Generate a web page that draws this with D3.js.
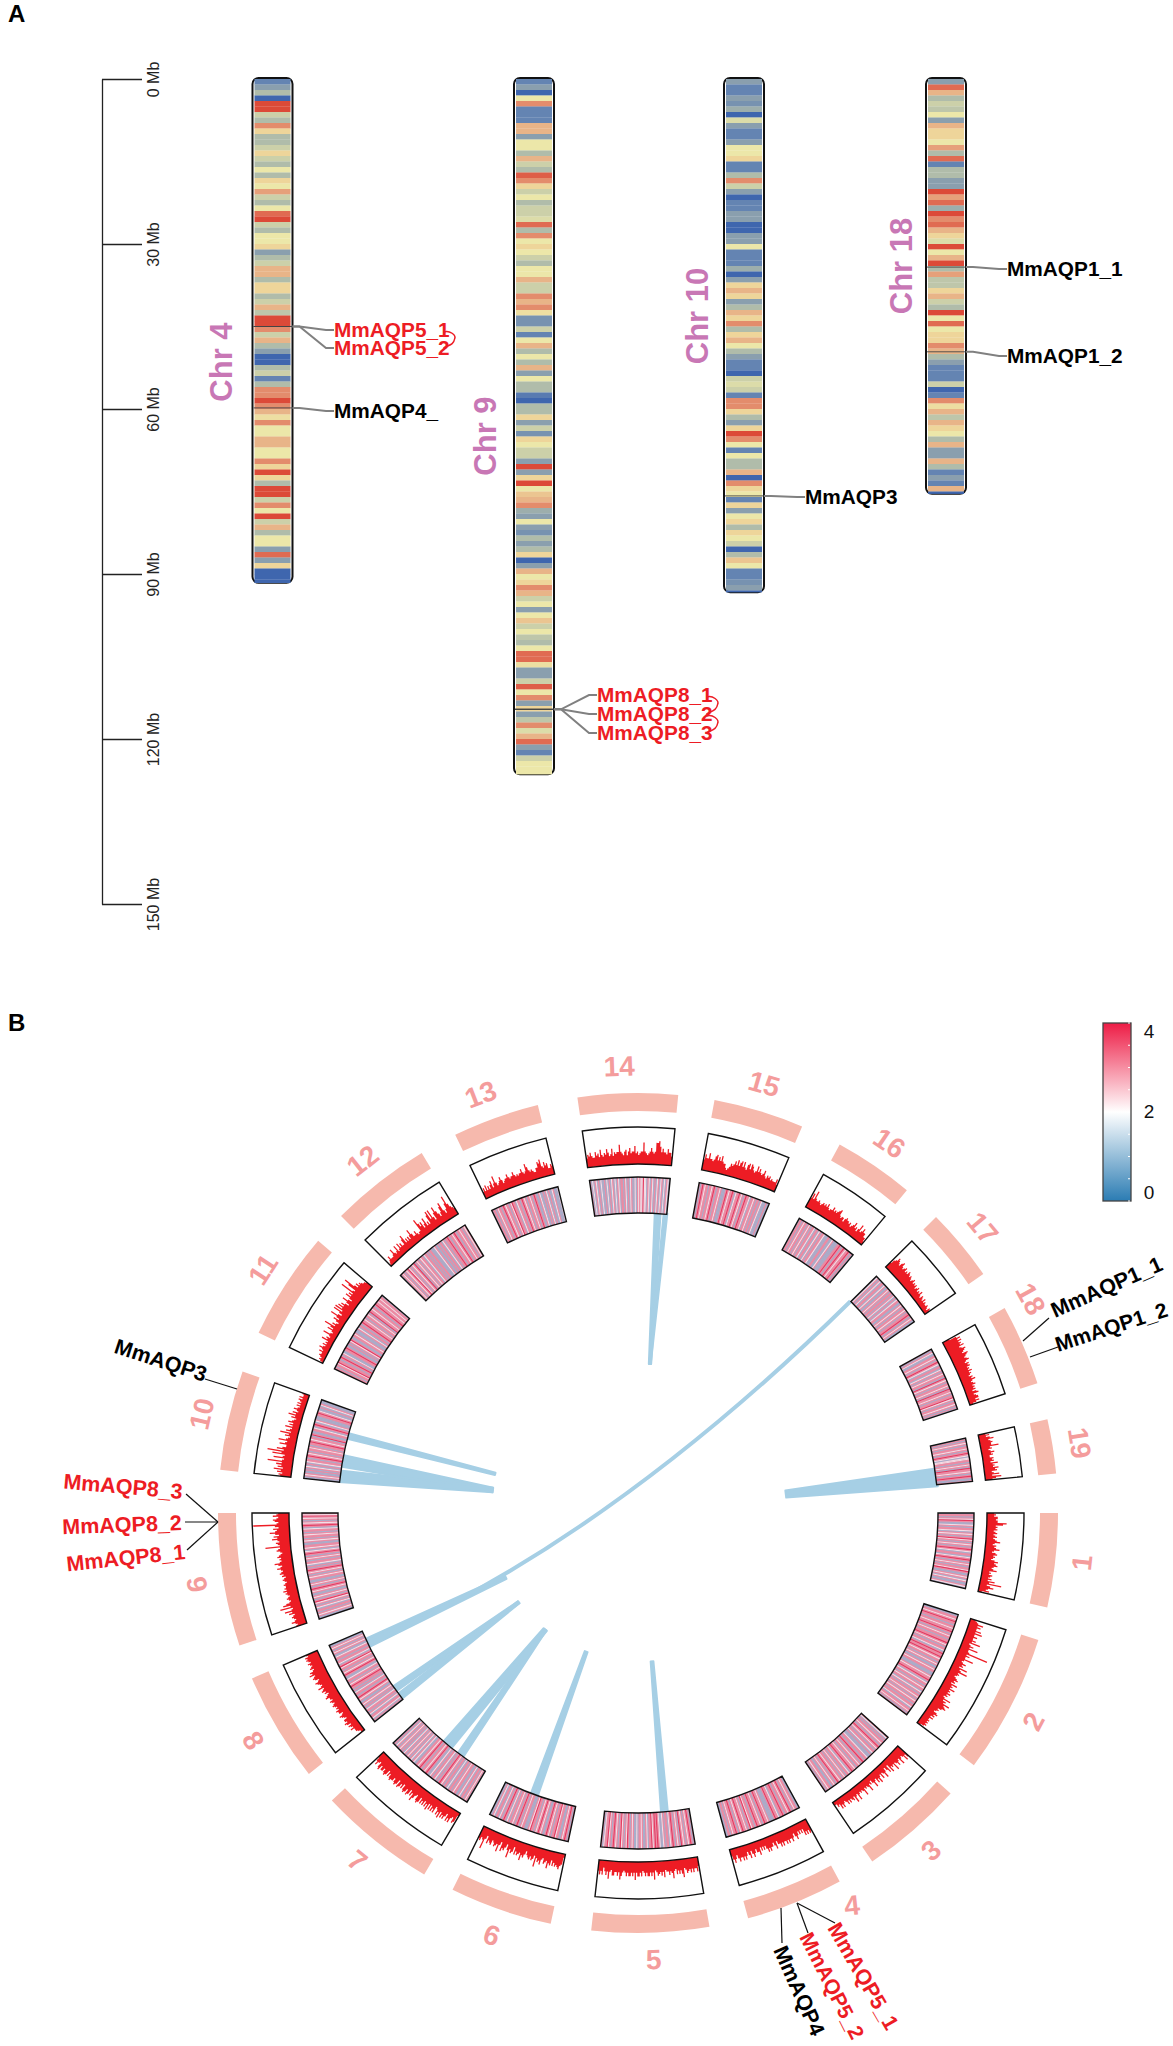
<!DOCTYPE html>
<html><head><meta charset="utf-8">
<script src="https://d3js.org/d3.v7.min.js"></script>
<style>html,body{margin:0;background:#fff}svg{display:block}text{font-family:"Liberation Sans",Arial,sans-serif}</style>
</head><body><svg id="c" width="1173" height="2046"></svg>
<script>
// ---------- Panel A: chromosome density (one value per Mb, 0 = low, 9 = high)
const idioNames=["Chr 4","Chr 9","Chr 10","Chr 18"];
const idioLen=[91.6,126.4,93.3,75.4];
const band4=[1,2,3,0,9,9,4,3,8,6,3,3,4,6,4,3,5,3,6,5,7.5,4,3,5,8.5,9,4,3,5,5,6,2,3,4,7,7,3,6,6,3,4,7,3.5,9,9,8,4,7,3,2,0,0,3,4,1,3,8,8,9,8,7,5.5,8,5,5,7,7,5,5,8,6,9,6,3,9.5,9,4,8,5,9,4,7,3,5,5,2,8.5,2,6,0,0,0];
const band9=[1,2,0,5,8,1,1,1,7,7,2,5,5,3,7,4,3,8.7,8,6,4,5,3,4,4,4.5,8.5,3,8,5,6,5,4,3,5,5,7,4,4,8,7,8,5.5,1.5,1.5,4,1,5,7,3,5,3,7,2,5,3,3,0.7,0,3,3,6,2,4,1.5,6,5,4,4,2,9,2,6,9.5,5,6.5,7,8,2.5,2,5,2,1.5,3,2,3,6,0,2,7,5,6,8,7,4,5,2,5,6.5,4,5,3.5,3,5,8.5,8.5,5.5,2,2,4,8.7,5,8,2,6,2,3.5,8,4.5,7,8.5,2,1,4,5,5,5,0];
const band10=[2,1,1,2,1.5,2.5,0,4.5,2,1,1,2,5,5,6,1,1,3,8,4,2,0,1,1,2,2,0,0,2,2,5,1,1,1,2.5,-0.3,2,6,7,6,2,3,7,6,8,3,6,7,5,3,2,1,1,0,4,4.5,4,1,8,8,6,3,2,6,9,8,5,1,5,3,3,7,0,8,6,5,1,6,2,5,6,3,6,5,4,0,3,6.5,5,1,1,1.5,2,0];
const band18=[2,8.5,7,3,4,3.5,5,2,7,6,6,5,7.5,3,8.5,1,3,3,2,2,9.5,7.5,8.5,2.5,9.5,8,8.5,7,6,4.5,9,5,7,9.5,3,7.5,3.5,3.5,6,7,4,3,9,5,8.5,5,6,6,8,7,3,2,1,1,1,4,0,1,8,5.5,7,3.5,7,6,5,3,7,2,2,7,3,1,2,1,7,0];
const idioBands=[band4,band9,band10,band18];
const idioAxisTicks=[0,30,60,90,120,150];
const idioGenes=["MmAQP5_1","MmAQP5_2","MmAQP4_","MmAQP8_1","MmAQP8_2","MmAQP8_3","MmAQP3","MmAQP1_1","MmAQP1_2"];
const idioGeneChr=[0,0,0,1,1,1,2,3,3];
const idioGeneMb=[45,45,59.8,114.6,114.6,114.6,75.8,34.2,49.6];
const idioGeneRed=[1,1,0,1,1,1,0,0,0];
const idioDup=[[0,1],[3,4],[4,5]];
// ---------- Panel B: circular genome
const chrNames=["1","2","3","4","5","6","7","8","9","10","11","12","13","14","15","16","17","18","19"];
const chrStart=[90,107.6,131.9,151.3,170.2,192,210.6,231.6,251.6,275.9,295.4,315,334.2,351.7,10.5,28.7,45.2,60.8,77.1];
const chrEnd=[103,126.9,146.1,164.8,186.4,206.2,226.8,246.8,270,289.7,310.4,329,346.2,365.5,23,39.8,55.3,72,84.6];
const chrLabelAngle=[96.4,117.8,139,151.4,178,199.1,218.9,239.4,260.8,282.8,303,322,339.4,357.6,16.4,34.2,50.4,61.4,81];
const chrLabelRot=[-83.6,-62,-41,-6,-2,19,39,59,81,-77,-57,-38,-21,-2,16,34,50,61,81];
const hist1=[2,2.5,2,3,3,2.5,3,3,5.5,4.5,2.5,3,2.5,3,2,2.5,3,2,2.5,3,2,2.5,3,4,2.5,2,3,2.5,3,4,2.5,2,3,3.5,2.5,3,2.5,2,3,4,3,3.5,4,3,2.5,3,4,2,2.5,2,3,2.5,2,3,2,4,2.5,6,2,3,4,2.5,2,3,1];
const hist2=[1.5,2,2.5,4,2.5,3.5,2.5,2.5,4,2.5,4.5,2.5,2.5,3.5,2.5,2.5,3.5,2.5,5,2,2.5,3.5,2.5,5,2.5,2.5,3,8.5,2.5,3.5,2.5,2.5,5,2.5,2,2.5,3.5,2.5,3,2,4.5,2.5,3,5,2.5,3,2.5,2,2.5,3,3.5,2.5,3,2,4,2.5,3,2.5,4,2.5,3,2.5,3.5,2.5,3,2,2.5,4.5,2.5,3.5,3,5,3.5,4,4.5,3.5,2.5,3,2.5,2,3,3.5,2.5,3,2,3,2,2,2.5,2,2.5,2,2.5,2,1];
const hist3=[4,3,4.5,3,2.5,3,4.5,2.5,3,4,3,2.5,4.5,2.5,3,2.5,4,1.5,3.5,2.5,1.5,2.5,4,2.5,2,3.5,2,2.5,4,2.5,3.5,2,2.5,4,2.5,1.5,2.5,2,4,2.5,2,2.5,2,4,2.5,2,2.5,2,2.5,4,2,2.5,4,2,3,2.5,2,3,2,3,2,1.5,2,3,2,3,1.5,2,1,1];
const hist4=[3.5,4,3,4,3,4,2,3,2,3,2,3,4,3,2,3,4,3,3,4,3,4,3,3,4,3,4,3,3,2,4,3,2,3,3,4,3,4,3,2,3,2,3,2,4,3,3,2,3,4,3,2,4,3,2,3,4,3,4,3,3,4,3,2,3,4,3,2];
const hist5=[2.5,4,3,3,4,3,4,3,3.5,4,3,2.5,5,4,3,4,3,4,2.5,3,5,3.5,3,4,3,3,2.5,4.5,3,4,3,3.5,4,3,2.5,5,3,4,3,4,4,3,4,3,2.5,4,3,4,4,3,5,3,4,3,4,4,3,4,3,2.5,3,4,5,3,4,3,3,4,4,2.5,3,5,3,4,3,2,4,3,4,3];
const hist6=[1,3,3.5,4.5,4,3.5,4,3,4,2.5,4,3.5,5,3,3.5,4,2.5,3,4.5,3.5,4,3,5.5,2.5,3.5,4,3,4,3.5,3,2,3,4,3.5,5,3,3.5,4,3,4,2,3.5,4,3,5.5,3.5,2,3,4,3.5,4.5,2,3,5,3,3.5,4,3,2.5,4,3.5,3,4,2,3,6,3.5,3,4,3.5];
const hist7=[1,3,3.5,2,2.5,4,3,4,2,3,4,3,4,2.5,4.5,3,4,2.5,2,4,3,4,2.5,4,2.5,4.5,3,4,2.5,4,3,4,2.5,4,4.5,4,2.5,3,4,5,3,4,2.5,4,4.5,3,4,4.5,4,2.5,4,3,4,4.5,2.5,4,4.5,4,3,4,4,4.5,4,3,4,2.5,4,4.5,4,3,4,4,3,4.5,4,2.5,3,4,3,2];
const hist8=[1,1,1.5,2,2,2,3,2,2.5,3,2,3,3.5,2.5,3,3,2,2.5,3,3.5,2.5,2,3,3,3.5,2.5,3,2.5,3,3.5,3,2.5,3,3.5,2.5,3,3,4,3.5,3,2.5,3.5,3,4,3.5,3,4.5,3.5,3,3.5,4,4.5,3.5,3,4,4.5,4,3.5,5,4,4.5,3.5,3,4,3.5,3,3.5,4,3,3.5,4,3.5,4,3,3.5];
const hist9=[3,2.5,3,4,3,2.5,3,3.5,3,2.5,4,3,5,3,2.5,6,3,5,4,3,2.5,3,3.5,3,2.5,3,3.5,3,4,3,3.5,3,3,3.5,3,2.5,3,3.5,3,2.5,3.5,3,4,3.5,3,3.5,4.5,3.5,3,4,5,3.5,3,3.5,3,4,3.5,3,2.5,3,4,3.5,3,7,3,3.5,4,3,3.5,5,3.5,4.5,3,4,5.5,4,3.5,4.5,3,4,10,3.5,3,4,4.5,3.5,3,4.5,3.5,3];
const hist10=[3,3.5,2.5,4,3,5,2.5,4,3,4.5,3,7,3,2.5,5.5,3,2.5,6,3.5,7.5,3,5,3.5,2.5,2.5,4.5,3,2.5,5,3,2.5,2,3.5,2.5,5,2,3.5,2.5,2,4,2,3,2,3.5,2.5,2,1.5,3,2,4,2,3,1.5,2,3,2,1.5,2.5,1.5,2.5,1.5,2,2.5,1.5,2.5,1.5,1.5,2];
const hist11=[.5,1,1.5,1,1.5,2,1.5,1.5,2.5,1.5,2,3,2,1.5,2.5,1.5,2,1.5,3.5,2,2.5,1.5,2,4,2,1.5,2,3.5,2,3,5,2,3,2,1.5,2.5,3.5,2,3,5,3,2,3,5,2.5,5,3,4.5,3,4,3,2,3,4.5,3,2,3,4.5,3,4,3,7,3.5,3,5.5,7,4,3,4,3,3.5,3,2.5,2.5,2];
const hist12=[.5,1,1.5,2.5,1.5,1.5,1.5,2,3.5,2,1.5,2,3.5,1.5,2,3.5,2,3,2,2,3.5,4.5,2,3,2,3,2,3,4.5,3,2,2,3,2,1.5,2,2,5.5,4,3,4,2,3,4.5,2,3,2,4.5,5.5,3,5.5,3,2,4,5.5,4,3,2,3,4.5,5.5,3,2,3,4.5,6.5,4,3,2.5,2];
const hist13=[2,3,2,3.5,2,3,2,3,4,2,3,5,3,2,2.5,3,4,3,2,2.5,3,3,4,3,2.5,3,3,4,3,2.5,3,2.5,3,3,4,3,2.5,3,5,4,3,2.5,3,2.5,2,2,3,3,4.5,4,5,3,2.5,4,3,3.5,2,2,3,2.5];
const hist14=[2.5,3.5,3,4,3,2.5,2.5,4,3,3.5,2.5,4.5,3,2.5,3.5,3,4.5,3.5,2.5,3,4.5,2.5,3.5,3,3.5,3.5,5.5,3.5,3,2.5,3.5,4,2.5,3.5,4.5,3,3.5,3.5,5,3,3.5,2.5,3,3.5,3.5,6,3.5,3,2.5,3,3.5,4.5,3.5,3,3.5,6,6,6.5,5,3.5,4.5,3.5,3.5,3,4.5,3.5,3.5,2.5];
const hist15=[3,4.5,3.5,3.5,5,3.5,3.5,3,3.5,4.5,5,3.5,4.5,3.5,5,3.5,3,3,2,1.5,2,2.5,3.5,3,3.5,4.5,3.5,5,3.5,4.5,5,3.5,5,3.5,3,4.5,5,3.5,5,4.5,3.5,3,3.5,5,3.5,4.5,3.5,3,3.5,4.5,3,2.5,3.5,3,3.5,2.5,3,2.5,2.5,2.5,3.5,2];
const hist16=[3,4.5,3,5.5,3.5,3,3,3.5,3,2.5,3,3.5,3,3.5,3,4,3,2.5,3,3,4,3,3.5,3,3.5,4,4.5,3,2.5,3,3,2,3,3.5,3,3,2.5,3,2,2.5,3,4,2.5,3,2,3,4.5,2.5,3,4,3,3,2,2,1];
const hist17=[2,3,3.5,4.5,4,3.5,3,4,4.5,3.5,3,3.5,4,3,3.5,3,4,3.5,3,3.5,3,2.5,3,3.5,2.5,3,2.5,3,2,2.5,3,2,2.5,2,3,2,1.5,2.5,2,1.5,2.5,1.5,2,1.5,1.5,2,1.5,1,2,1.5];
const hist18=[2,4,5,4,5,4,4.5,4,5,3.5,4,5,4.5,4,3.5,5,4.5,4,3.5,4,4.5,3.5,3,4,3.5,4,3,3.5,3,4,3,3.5,3,2.5,3.5,3,4,3,2.5,3,3.5,2.5,3,2.5,3,2,3,3.5,2,2.5,3,3,2,3,2,1];
const hist19=[2,3,2,3,4,2.5,3,3.5,3,3,5,2.5,3,2,2.5,3.5,2.5,3,2,2,3,2.5,3,2,4,2.5,3,2.5,4,3,3.5,2,2.5,4,2,4.5,3,2];
const histAll=[hist1,hist2,hist3,hist4,hist5,hist6,hist7,hist8,hist9,hist10,hist11,hist12,hist13,hist14,hist15,hist16,hist17,hist18,hist19];
const heat1=[1,3,3,1,3,2,4,3,1,1,2,3,1,3,3,2,1,3,2,3,1,3,4,2,3,1,3,2,3,1,3,4,3,2,1,3,3,1,2,3,4,3,1,3,2,3,1,3,3,2,4,3,1,1,3,2,3,1,2,3,1,1,3,2,1];
const heat2=[1,1,3,3,2,3,4,3,3,1,3,3,2,3,3,4,3,1,3,2,3,3,1,3,3,4,3,2,3,1,3,3,2,1,3,4,3,3,4,3,2,3,3,1,3,2,3,1,1,3,2,3,3,1,1,1,3,2,3,3,4,3,1,2,3,3,1,3,2,3,3,1,2,3,1,3,3,2,3,1,3,2,3,3,1,3,3,2,1,3,3,2,3,1,3];
const heat3=[3,2,1,3,1,3,3,2,3,1,3,4,3,2,3,1,3,3,2,1,3,1,1,1,2,3,3,1,3,4,3,1,3,2,3,3,1,3,2,3,3,4,3,1,2,3,3,1,3,2,3,1,3,3,2,3,4,3,1,3,2,3,1,1,3,3,2,3,1,3];
const heat4=[1,1,3,3,2,3,1,3,4,3,2,3,3,1,3,4,3,3,1,2,3,3,4,3,1,1,1,1,3,2,3,3,4,3,1,3,2,3,3,4,3,1,3,3,2,4,3,1,3,2,3,3,4,3,2,3,1,3,4,3,3,2,3,1,3,3,1,1];
const heat5=[3,1,3,4,3,2,3,1,3,2,3,4,1,3,2,3,1,3,4,3,2,1,3,3,1,3,2,1,1,2,3,4,3,4,3,2,4,3,3,1,2,3,1,1,3,2,3,3,1,2,1,1,3,2,3,1,3,4,2,3,1,3,2,4,3,1,3,2,3,4,3,1,3,2,4,3,3,2,1,3];
const heat6=[3,1,3,4,3,2,3,1,1,3,3,2,4,3,3,1,3,2,3,4,3,1,1,3,2,3,4,3,2,3,1,3,3,4,2,3,1,1,1,3,3,2,3,1,3,4,3,1,3,2,3,3,1,3,2,1,3,4,3,1,3,2,1,3,3,1,2,3,1,1];
const heat7=[1,3,2,3,1,3,3,1,2,3,1,1,3,3,2,3,1,3,3,1,2,1,3,3,1,3,2,3,4,3,1,3,1,2,3,3,1,3,2,1,1,3,4,3,2,3,3,1,3,4,3,2,3,3,1,1,2,3,1,2,3,1,3,2,3,1,3,2,1,3,1,3,2,3,1,3,2,1,3,1];
const heat8=[1,3,1,2,3,3,1,2,3,1,3,3,2,1,3,1,3,2,3,1,1,3,2,3,4,3,1,3,3,2,1,3,1,3,3,4,3,2,3,1,3,3,2,1,1,3,4,3,2,3,1,3,3,2,4,3,1,2,3,3,1,3,3,2,1,1,3,2,3,1,3,2,3,1,1];
const heat9=[1,1,3,2,3,1,3,3,1,2,3,1,3,2,4,3,1,3,2,3,1,1,3,2,3,4,3,1,3,2,3,1,1,3,3,2,3,1,3,2,3,4,3,1,3,1,2,3,3,1,3,2,3,1,3,4,3,2,1,3,2,3,3,1,1,3,2,3,1,3,3,2,3,1,3,3,2,1,3,4,3,2,3,1,3,2,3,4,2,3];
const heat10=[1,1,3,2,3,1,1,3,1,3,2,1,3,1,2,3,3,1,3,4,3,2,3,1,3,3,2,3,1,3,3,4,3,2,3,3,1,4,3,1,1,3,3,2,1,3,4,3,1,2,3,1,1,1,3,3,4,3,2,1,1,3,1,2,3,1,1,1];
const heat11=[3,3,1,3,3,2,4,3,3,1,3,4,3,1,3,2,1,1,3,3,4,3,1,1,3,1,3,2,4,3,1,1,3,3,2,3,1,1,1,3,2,1,3,3,1,3,4,3,3,2,3,1,3,3,2,3,1,4,3,3,2,3,3,1,3,4,3,3,2,3,3,2,3,3,1];
const heat12=[1,3,2,3,1,3,2,3,4,2,3,1,3,2,3,4,1,3,2,3,1,3,2,3,3,1,2,3,3,1,3,1,3,3,1,1,1,2,3,1,1,3,1,3,3,1,2,3,1,3,3,4,3,1,3,3,2,3,4,3,1,3,3,2,3,3,1,3,2,3];
const heat13=[1,3,3,1,3,2,3,3,1,3,4,3,2,3,3,1,3,2,4,3,3,1,2,3,3,1,3,4,3,2,3,1,3,3,2,3,1,3,4,3,1,1,3,2,1,1,3,1,3,2,1,3,1,1,2,3,1,1,1,2];
const heat14=[3,1,2,1,3,2,1,3,1,2,1,1,3,1,2,1,3,1,2,3,1,2,1,3,2,1,3,3,1,3,2,1,3,1,2,3,1,1,2,1,3,2,3,2,2,4,2,2,1,3,2,1,3,2,1,3,1,2,3,1,2,3,1,2,1,3,2,1];
const heat15=[3,1,3,4,3,2,3,3,1,3,3,2,3,4,3,1,3,3,2,3,1,1,1,3,4,3,2,3,3,4,3,1,2,3,3,4,3,2,3,1,3,4,3,3,2,1,3,3,2,3,1,3,3,1,3,2,1,1,1,3,1,1];
const heat16=[1,3,3,1,3,2,3,3,1,3,2,3,1,3,3,2,1,3,3,1,2,3,1,3,3,2,1,1,1,3,3,1,1,2,3,1,1,1,1,3,3,4,3,1,3,4,3,2,3,3,4,3,1,3,1];
const heat17=[1,2,3,1,3,2,1,3,3,1,2,3,1,1,3,2,3,1,3,3,1,3,2,1,3,1,2,3,3,1,1,3,2,3,1,3,3,2,3,1,3,3,4,3,1,3,2,3,1,1];
const heat18=[3,1,3,2,1,1,3,3,2,3,1,3,4,3,2,1,3,3,1,2,3,1,3,2,3,3,1,4,3,2,3,1,3,3,2,3,1,4,3,3,2,3,1,3,3,4,2,3,1,3,3,2,3,1,3,1];
const heat19=[1,3,1,3,2,3,1,3,3,2,3,1,3,4,3,2,1,2,2,3,3,1,3,2,3,1,4,3,3,2,3,1,3,4,3,1,1,3];
const heatAll=[heat1,heat2,heat3,heat4,heat5,heat6,heat7,heat8,heat9,heat10,heat11,heat12,heat13,heat14,heat15,heat16,heat17,heat18,heat19];
// ribbons: angle span at the inner heat edge, then the angle and radius of the tip
const ribbonA=[81.5,285.4,281.1,278.1,245.2,234.7,233,220.4,216.9,200.9,175.6,3.2,4.9];
const ribbonB=[84.9,284.3,278.9,275.9,243.5,233.6,231.8,218.4,215.6,199.5,174.3,4.3,5.6];
const ribbonTipA=[82.7,285.3,279,279,244.1,233.2,233.2,218.5,218.5,200.5,174.6,4.6,4.6];
const ribbonTipR=[149,148,147,147,147,149,149,149,149,148,149,149.5,149.5];
const longLinkAngles=[45.1,244.1];
const longLinkControl=[228,41];
const legendTicks=[0,0.5,1,1.5,2,2.5,3,3.5,4];
const legendLabels=[0,2,4];
const circleGenes=["MmAQP3","MmAQP8_3","MmAQP8_2","MmAQP8_1","MmAQP1_1","MmAQP1_2","MmAQP4","MmAQP5_2","MmAQP5_1"];
const circleGeneRed=[0,1,1,1,0,0,0,1,1];

const RED="#ed1c24",PINK="#c877b5",BLUE="#a6cfe5",SALMON="#f6b9ad",NUM="#f49c9c";
const svg=d3.select("#c");
const rad=d=>d*Math.PI/180;
// panel letters
svg.append("text").attr("x",8).attr("y",22).attr("font-size",24).attr("font-weight",700).text("A");
svg.append("text").attr("x",8).attr("y",1031).attr("font-size",24).attr("font-weight",700).text("B");

// ---------- Panel A
const yMb=d3.scaleLinear().domain([0,150]).range([79,904]);
const idioColor=d3.scaleLinear().domain([0,1,2,3,4,5,6,7,8,9]).range(["#3f66ae","#6484b2","#8a9fae","#b0bcaa","#ccd0a9","#ece7a9","#eed59a","#e8b488","#e38c6c","#dc4a38"]).clamp(true);
const axisG=svg.append("g").attr("transform","translate(102,0)")
  .call(d3.axisRight(yMb).tickValues(idioAxisTicks).tickSize(40).tickSizeOuter(0).tickFormat(d=>d+" Mb"));
axisG.select(".domain").attr("stroke","#222").attr("stroke-width",1.3);
axisG.selectAll(".tick line").attr("stroke","#222").attr("stroke-width",1.3);
axisG.selectAll(".tick text").attr("font-size",16).attr("font-family","Liberation Sans").attr("fill","#222")
  .attr("text-anchor","middle").attr("dy",0).attr("x",0).attr("y",0).attr("transform","translate(57,0) rotate(-90)");
const xPos=d3.scaleOrdinal().domain(idioNames).range([252.5,514,724,926]);
const idioW=d3.scaleLinear().domain([0,1]).range([0,40]);
const labelPos=d3.scaleOrdinal().domain(idioNames).range([[232,362],[496,436],[708,316],[912,266]]);
idioNames.forEach((name,k)=>{
  const x=xPos(name),len=idioLen[k],g=svg.append("g");
  g.append("rect").attr("x",x).attr("y",yMb(0)-1).attr("width",idioW(1)).attr("height",yMb(len)-yMb(0)+1).attr("rx",6).attr("fill","#fff").attr("stroke","#111").attr("stroke-width",2);
  g.selectAll("rect.b").data(idioBands[k]).join("rect").attr("class","b")
    .attr("x",x+2).attr("width",idioW(1)-4)
    .attr("y",(d,i)=>yMb(i)).attr("height",(d,i)=>yMb(Math.min(i+1,len))-yMb(i)+.2)
    .attr("fill",d=>idioColor(d));
  const [lx,ly]=labelPos(name);
  svg.append("text").attr("transform",`translate(${lx},${ly}) rotate(-90)`).attr("text-anchor","middle")
    .attr("font-size",31).attr("font-weight",700).attr("fill",PINK).text(name);
});
// gene markers: label offsets
const idioLabelX=[334,334,334,597,597,597,805,1007,1007];
const idioLabelY=[330,348,411,695,714,733,497,269,356];
const genePos=[];
idioGenes.forEach((g,i)=>{
  const name=idioNames[idioGeneChr[i]],x=xPos(name),y=yMb(idioGeneMb[i]);
  svg.append("line").attr("x1",x+1).attr("x2",x+40).attr("y1",y).attr("y2",y).attr("stroke","#444").attr("stroke-width",.9);
  const lx=idioLabelX[i],ly=idioLabelY[i],p=d3.path();
  p.moveTo(x+40,y);p.lineTo(x+47,y);p.lineTo(lx-8,ly);p.lineTo(lx,ly);
  svg.append("path").attr("d",p.toString()).attr("fill","none").attr("stroke","#808080").attr("stroke-width",2);
  const t=svg.append("text").attr("x",lx).attr("y",ly+7).attr("font-size",20.8).attr("font-weight",700)
    .attr("fill",idioGeneRed[i]?RED:"#000").text(g);
  genePos[i]=[lx+t.node().getComputedTextLength(),ly];
});
idioDup.forEach(([a,b])=>{
  const [xa,ya]=genePos[a],[xb,yb]=genePos[b],m=(ya+yb)/2,p=d3.path();
  p.moveTo(xa-6,ya+2);p.bezierCurveTo(xa,ya,xa+7,m-4,xa+5,m);p.bezierCurveTo(xa+4,m+6,xb-1,yb-3,xb-6,yb);
  svg.append("path").attr("d",p.toString()).attr("fill","none").attr("stroke",RED).attr("stroke-width",1.5);
});

// ---------- Panel B
const cg=svg.append("g").attr("transform","translate(638,1513)");
const pt=(a,r)=>[r*Math.sin(rad(a)),-r*Math.cos(rad(a))];
const R={outer:[402,420],hist:[349,386],heat:[300,336],num:447};
const arc=d3.arc();
const heatColor=d3.scaleLinear().domain([0,2,4]).range(["#2b7cb3","#ffffff","#ed1c45"]);
const histR=d3.scaleLinear().domain([0,10]).range([R.hist[0],R.hist[1]-1]);
// ribbons
const ribbons=ribbonA.map((a,i)=>({a,b:ribbonB[i],ta:ribbonTipA[i],tr:ribbonTipR[i]}));
cg.selectAll("path.rb").data(ribbons).join("path").attr("class","rb")
  .attr("d",d=>{const p=d3.path(),A=pt(d.a,R.heat[0]+1),B=pt(d.b,R.heat[0]+1),T=pt(d.ta,d.tr);
    const ox=(A[0]-B[0])*.2,oy=(A[1]-B[1])*.2;
    p.moveTo(...A);p.lineTo(T[0]+ox,T[1]+oy);p.lineTo(T[0]-ox,T[1]-oy);p.lineTo(...B);p.closePath();return p.toString();})
  .attr("fill",BLUE).attr("stroke",BLUE).attr("stroke-width",2).attr("stroke-linejoin","round");
{
  const p=d3.path(),s=pt(longLinkAngles[0],R.heat[0]),e=pt(longLinkAngles[1],R.heat[0]),c=pt(...longLinkControl);
  p.moveTo(...s);p.quadraticCurveTo(...c,...e);
  cg.append("path").attr("d",p.toString()).attr("fill","none").attr("stroke",BLUE).attr("stroke-width",4);
}
chrNames.forEach((name,i)=>{
  const s=chrStart[i],e=chrEnd[i],g=cg.append("g");
  const span=(r)=>arc({innerRadius:r[0],outerRadius:r[1],startAngle:rad(s),endAngle:rad(e)});
  g.append("path").attr("d",span(R.outer)).attr("fill",SALMON);
  // histogram: each value is one bar, kept radial by doubling its points
  const hv=histAll[i],ha=d3.scaleLinear().domain([0,hv.length]).range([rad(s),rad(e)]);
  const pts=hv.flatMap((v,j)=>[[j,v],[j+1,v]]);
  const area=d3.areaRadial().curve(d3.curveLinear).angle(d=>ha(d[0])).innerRadius(R.hist[0]).outerRadius(d=>histR(d[1]));
  g.append("path").attr("d",area(pts)).attr("fill",RED);
  g.append("path").attr("d",span(R.hist)).attr("fill","none").attr("stroke","#111").attr("stroke-width",1.4);
  // heat stripes over a lavender-pink base
  const cv=heatAll[i],ca=d3.scaleLinear().domain([0,cv.length]).range([rad(s),rad(e)]);
  g.append("path").attr("d",span(R.heat)).attr("fill","#d58aa8");
  g.selectAll("path.h").data(cv).join("path").attr("class","h")
    .attr("d",(d,j)=>arc({innerRadius:R.heat[0],outerRadius:R.heat[1],startAngle:ca(j),endAngle:ca(j+1)}))
    .attr("fill",d=>heatColor(d)).attr("fill-opacity",.72);
  g.append("path").attr("d",span(R.heat)).attr("fill","none").attr("stroke","#111").attr("stroke-width",1.4);
  // number
  const [nx,ny]=pt(chrLabelAngle[i],R.num);
  g.append("text").attr("transform",`translate(${nx},${ny}) rotate(${chrLabelRot[i]})`).attr("text-anchor","middle").attr("dominant-baseline","central")
    .attr("font-size",28).attr("font-weight",700).attr("fill",NUM).text(name);
});
// labelled genes in the circle
const cgLabelX=[204,182,182,186,1055,1058,773,799,827];
const cgLabelY=[1382,1499,1530,1559,1318,1352,1950,1937,1928];
const cgLabelRot=[18,5,-2,-6,-24,-18,66,63,60];
const cgLabelAnchor=["end","end","end","end","start","start","start","start","start"];
const cgLabelSize=[21.5,21.5,21.5,21.5,21.5,21,21.5,21,21.5];
circleGenes.forEach((t,i)=>{
  svg.append("text").attr("transform",`translate(${cgLabelX[i]},${cgLabelY[i]}) rotate(${cgLabelRot[i]})`)
    .attr("text-anchor",cgLabelAnchor[i]).attr("font-size",cgLabelSize[i]).attr("font-weight",700).attr("fill",circleGeneRed[i]?RED:"#000").text(t);
});
const leaderFrom=[[205,1379],[186,1494],[185,1522],[187,1550],[1023,1341],[1030,1357],[781,1908],[797,1903],[797,1903]];
const leaderTo=[[237,1389],[218,1522],[218,1522],[218,1522],[1049,1318],[1058,1347],[782,1943],[808,1933],[835,1923]];
leaderFrom.forEach((f,i)=>{
  svg.append("line").attr("x1",f[0]).attr("y1",f[1]).attr("x2",leaderTo[i][0]).attr("y2",leaderTo[i][1]).attr("stroke","#111").attr("stroke-width",1.2);
});
// colour legend
const yLeg=d3.scaleLinear().domain([0,4]).range([1201,1023]);
const yLegLabel=d3.scaleLinear().domain([0,4]).range([1192,1031]);
const defs=svg.append("defs"),grad=defs.append("linearGradient").attr("id","lg").attr("x1",0).attr("x2",0).attr("y1",1).attr("y2",0);
legendLabels.forEach(v=>grad.append("stop").attr("offset",v/4).attr("stop-color",heatColor(v)));
svg.append("rect").attr("x",1103).attr("y",yLeg(4)).attr("width",28).attr("height",yLeg(0)-yLeg(4)).attr("fill","url(#lg)").attr("stroke","#444").attr("stroke-width",1.3);
svg.selectAll("line.lt").data(legendTicks).join("line").attr("class","lt").attr("x1",1128).attr("x2",1130).attr("y1",yLeg).attr("y2",yLeg).attr("stroke","#fff").attr("stroke-width",1);
svg.selectAll("text.ll").data(legendLabels).join("text").attr("class","ll").attr("x",1149).attr("y",yLegLabel).attr("dominant-baseline","central").attr("text-anchor","middle").attr("font-size",19).attr("fill","#111").text(d=>d);
</script></body></html>
